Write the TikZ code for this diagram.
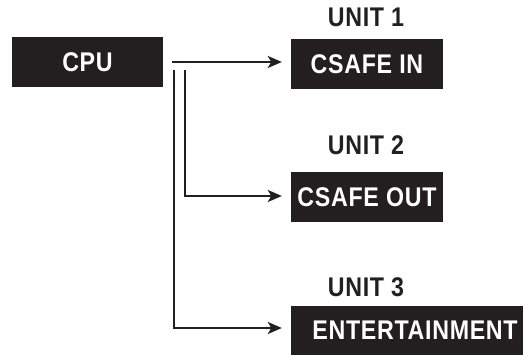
\documentclass[tikz,border=0pt]{standalone}
\usepackage{fontspec}
\setmainfont{Liberation Sans}[LetterSpace=3]
\usetikzlibrary{arrows.meta}
\definecolor{ink}{HTML}{231F20}
\newcommand{\lbl}[1]{\scalebox{0.86}[1]{\fontsize{27}{27}\selectfont\bfseries #1}}
\begin{document}
\begin{tikzpicture}[x=1pt,y=1pt,
  blk/.style={fill=ink,text=white,inner sep=0pt,minimum height=50pt},
  ttl/.style={text=ink,inner sep=0pt},
  conn/.style={draw=ink,line width=2.4pt},
  arr/.style={conn,-{Stealth[length=14pt,width=12pt,inset=3.5pt]},shorten >=9pt}]
\useasboundingbox (0,0) rectangle (524,355);
\node[blk,minimum width=151pt] (cpu) at (87.5,293) {\lbl{CPU}};
\node[blk,minimum width=152pt] (in) at (367,291) {\lbl{CSAFE IN}};
\node[blk,minimum width=152pt] (out) at (367,158) {\lbl{CSAFE OUT}};
\node[blk,minimum width=232pt,minimum height=49pt] (ent) at (407,24.5) {\hspace*{16pt}\lbl{ENTERTAINMENT}};
\node[ttl] (u1) at (366,338) {\lbl{UNIT 1}};
\node[ttl] (u2) at (366,210) {\lbl{UNIT 2}};
\node[ttl] (u3) at (366,68) {\lbl{UNIT 3}};
\coordinate (s1) at (172,293);
\coordinate (sa) at (174,285);
\coordinate (sb) at (185,285);
\coordinate (ca) at (174,27);
\coordinate (cb) at (185,159);
\draw[arr] (s1) -- (s1 -| in.west);
\draw[arr] (sb) -- (cb) -- (cb -| out.west);
\draw[arr] (sa) -- (ca) -- (ca -| ent.west);
\end{tikzpicture}
\end{document}
